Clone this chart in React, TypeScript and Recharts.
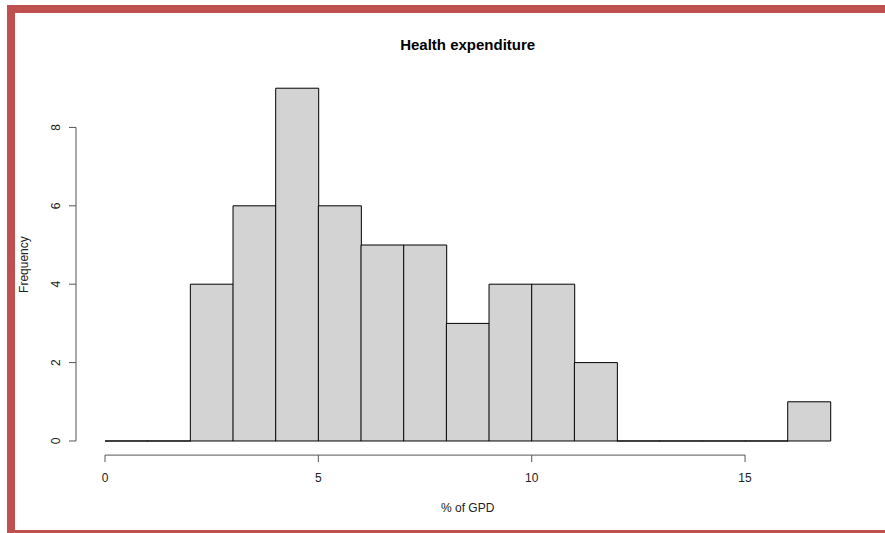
import { ComposedChart, Bar, XAxis, YAxis, ReferenceLine } from "recharts";

// histogram of health expenditure (% of GDP), bins of width 1
const binStarts = [0, 1, 2, 3, 4, 5, 6, 7, 8, 9, 10, 11, 12, 13, 14, 15, 16];
const counts = [0, 0, 4, 6, 9, 6, 5, 5, 3, 4, 4, 2, 0, 0, 0, 0, 1];
const xTicks = [0, 5, 10, 15];
const yTicks = [0, 2, 4, 6, 8];

const data = binStarts.map((s, i) => ({ bin: `${s}-${s + 1}`, start: s + 0.5, count: counts[i] }));

const W = 885;
const H = 533;
const FONT = "'Liberation Sans', Arial, sans-serif";
const TEXT = "#222";
const AXIS = "#555";
const margin = { top: 74.1, right: 25.6, bottom: 47.9, left: 16 };
const Y_AXIS_W = 60;
const X_AXIS_H = 30;

// base graphics pads the data range by 4% on each side
const xMin = binStarts[0];
const xMax = binStarts[binStarts.length - 1] + 1;
const xPad = (xMax - xMin) * 0.04;
const yMax = Math.max(...counts);
const yPad = yMax * 0.04;
const plotW = W - margin.left - margin.right - Y_AXIS_W;
const padPx = (plotW * xPad) / (xMax - xMin + 2 * xPad);

const HistBar = (p: any) => {
  const { x, y, width, height } = p;
  return (
    <path
      d={`M${x},${y + height}V${y}H${x + width}V${y + height}Z`}
      fill="#d3d3d3"
      stroke="#000"
      strokeWidth={1}
    />
  );
};

const XTick = (p: any) => (
  <text x={p.x} y={p.y} dy={19.5} textAnchor="middle" fontSize={12} fill={TEXT} fontFamily={FONT}>
    {p.payload.value}
  </text>
);

const YTick = (p: any) => (
  <text
    transform={`translate(${p.x - 9},${p.y}) rotate(-90)`}
    textAnchor="middle"
    fontSize={12}
    fill={TEXT}
    fontFamily={FONT}
  >
    {p.payload.value}
  </text>
);

export default function App() {
  return (
    <div style={{ position: "absolute", left: 0, top: 0, width: W, height: H, overflow: "hidden", background: "#fff" }}>
      <div
        style={{
          position: "absolute",
          left: 7,
          top: 5,
          width: 920,
          height: 533,
          boxSizing: "border-box",
          border: "8px solid #c0504d",
        }}
      />
      <div style={{ position: "absolute", left: 0, top: 0 }}>
        <ComposedChart width={W} height={H} data={data} margin={margin} barCategoryGap={0} barGap={0}>
          <XAxis
            xAxisId="bins"
            dataKey="bin"
            type="category"
            hide
            height={0}
            padding={{ left: padPx, right: padPx }}
          />
          <XAxis
            xAxisId="num"
            dataKey="start"
            type="number"
            domain={[xMin - xPad, xMax + xPad]}
            ticks={xTicks}
            allowDataOverflow
            height={X_AXIS_H}
            axisLine={false}
            tickSize={7}
            tickMargin={0}
            tickLine={{ stroke: AXIS }}
            tick={<XTick />}
            interval={0}
          />
          <YAxis
            type="number"
            domain={[-yPad, yMax + yPad]}
            ticks={yTicks}
            allowDataOverflow
            width={Y_AXIS_W}
            axisLine={false}
            tickSize={7}
            tickMargin={0}
            tickLine={{ stroke: AXIS }}
            tick={<YTick />}
            interval={0}
          />
          <Bar xAxisId="bins" dataKey="count" shape={HistBar} isAnimationActive={false} />
          <ReferenceLine
            xAxisId="num"
            segment={[
              { x: xTicks[0], y: -yPad },
              { x: xTicks[xTicks.length - 1], y: -yPad },
            ]}
            stroke={AXIS}
            ifOverflow="visible"
          />
          <ReferenceLine
            xAxisId="num"
            segment={[
              { x: xMin - xPad, y: yTicks[0] },
              { x: xMin - xPad, y: yTicks[yTicks.length - 1] },
            ]}
            stroke={AXIS}
            ifOverflow="visible"
          />
        </ComposedChart>
      </div>
      <svg width={W} height={H} style={{ position: "absolute", left: 0, top: 0, pointerEvents: "none" }}>
        <text x={467.7} y={50} textAnchor="middle" fontSize={15} fontWeight="bold" fill="#000" fontFamily={FONT}>
          Health expenditure
        </text>
        <text x={467.7} y={512} textAnchor="middle" fontSize={12} fill={TEXT} fontFamily={FONT}>
          % of GPD
        </text>
        <text transform="translate(28,264.6) rotate(-90)" textAnchor="middle" fontSize={12} fill={TEXT} fontFamily={FONT}>
          Frequency
        </text>
      </svg>
    </div>
  );
}
